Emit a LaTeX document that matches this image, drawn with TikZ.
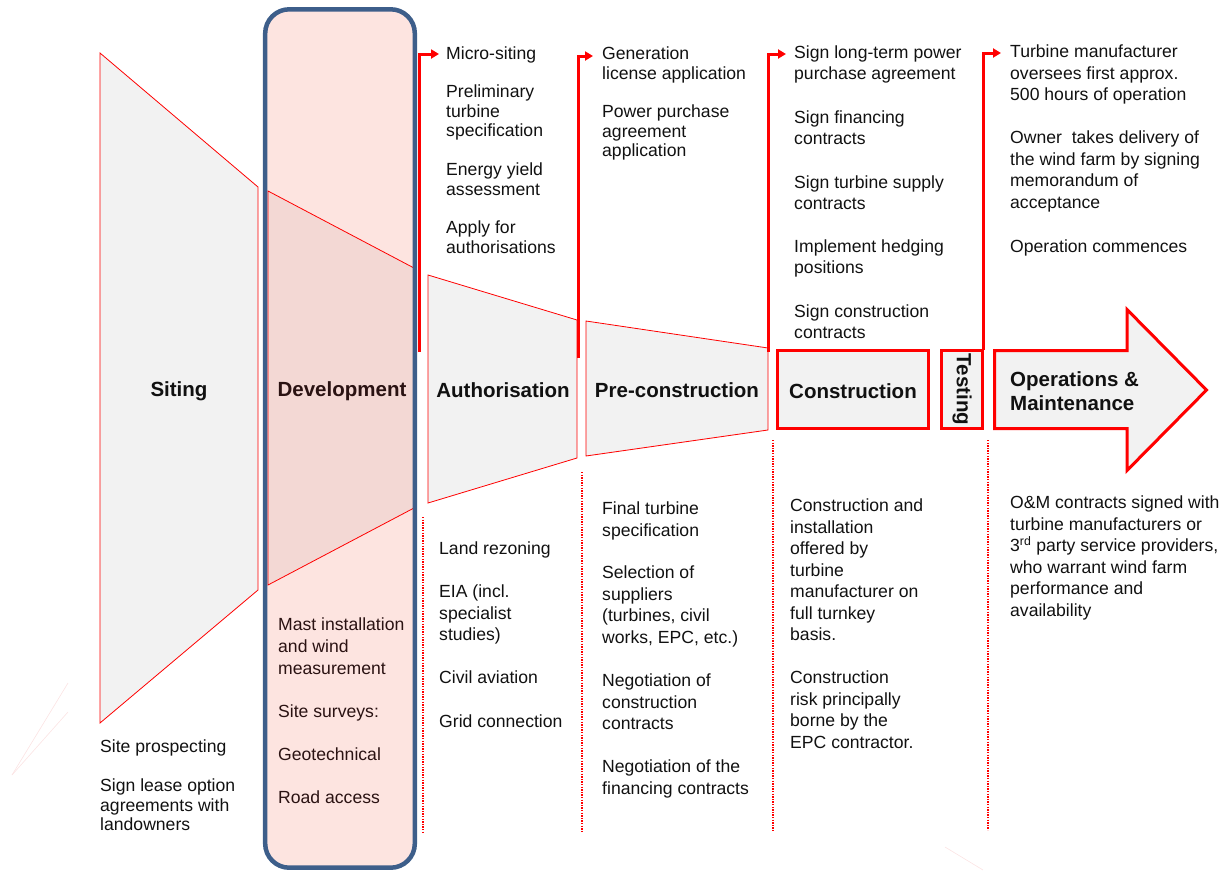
\documentclass[tikz,border=0pt]{standalone}
\usepackage{fontspec}
\setmainfont{Liberation Sans}
\usetikzlibrary{arrows.meta}
\definecolor{lgrey}{HTML}{F2F2F2}
\definecolor{devpink}{HTML}{FDE4E0}
\definecolor{devtrap}{HTML}{F3D8D4}
\definecolor{devblue}{HTML}{3D5E8A}
\definecolor{txt}{HTML}{111111}
\definecolor{devtxt}{HTML}{2A1212}
\definecolor{faint}{HTML}{FBE3E3}
\begin{document}
\begin{tikzpicture}[x=1pt,y=-1pt,
  phase/.style={draw=red, line width=0.8pt, fill=lgrey},
  stage/.style={draw=red, line width=3pt, fill=lgrey, line join=miter},
  lbl/.style={font=\fontsize{20.5}{24.5}\selectfont\bfseries, text=txt, inner sep=0pt},
  item/.style={font=\fontsize{17.6}{21.5}\selectfont, text=txt, align=left, anchor=base west, inner sep=0pt},
  tightlines/.style={font=\fontsize{17.6}{19.5}\selectfont},
  midlines/.style={font=\fontsize{17.6}{21}\selectfont},
  devlines/.style={font=\fontsize{17.6}{22}\selectfont, text=devtxt},
  flow/.style={draw=red, line width=3pt, -{Triangle[length=8pt,width=9pt]}},
  divider/.style={draw=red, line width=1.3pt, dash pattern=on 1.3pt off 1.3pt}]
\useasboundingbox (0,0) rectangle (1224,871);

% faint artefact lines
\draw[faint, line width=0.6pt] (12,775) -- (68,683);
\draw[faint, line width=0.6pt] (12,775) -- (68,712);
\draw[faint, line width=0.6pt] (945,847) -- (983,870);

% Siting trapezoid
\path[phase] (100,53) -- (258,187) -- (258,590) -- (100,723) -- cycle;

% Development column
\fill[devpink, rounded corners=24pt] (265.2,9.3) rectangle (414.8,867.7);
\path[phase, fill=devtrap] (268,191) -- (414,268) -- (414,508) -- (268,585) -- cycle;
\draw[devblue, line width=4.5pt, rounded corners=24pt] (265.2,9.3) rectangle (414.8,867.7);

% Authorisation and pre-construction trapezoids
\path[phase] (428,275) -- (577,320) -- (577,458) -- (428,503) -- cycle;
\path[phase] (586,321) -- (768,348) -- (768,430) -- (586,456) -- cycle;

% Construction, Testing, O&M
\path[stage] (777.5,350.5) rectangle (928.5,428.5);
\path[stage] (941.5,350.5) rectangle (982.5,428.5);
\path[stage] (994.5,350.5) -- (1127,350.5) -- (1127,309.5) -- (1206.5,390) -- (1127,470.5) -- (1127,428.5) -- (994.5,428.5) -- cycle;

% flow connectors
\coordinate (f1s) at (419.5,352); \coordinate (f1e) at (439,54);
\coordinate (f2s) at (578,358);   \coordinate (f2e) at (593,56);
\coordinate (f3s) at (768,352);   \coordinate (f3e) at (786,54);
\coordinate (f4s) at (983,350);   \coordinate (f4e) at (1001,53);
\draw[flow] (f1s) |- (f1e);
\draw[flow] (f2s) |- (f2e);
\draw[flow] (f3s) |- (f3e);
\draw[flow] (f4s) |- (f4e);

% dividers
\coordinate (d1a) at (423,517); \coordinate (d1b) at (423,832);
\coordinate (d2a) at (582,472); \coordinate (d2b) at (582,832);
\coordinate (d3a) at (773,440); \coordinate (d3b) at (773,832);
\coordinate (d4a) at (988,440); \coordinate (d4b) at (988,830);
\draw[divider] (d1a) -- (d1b);
\draw[divider] (d2a) -- (d2b);
\draw[divider] (d3a) -- (d3b);
\draw[divider] (d4a) -- (d4b);

% stage labels
\node[lbl, anchor=base] (lsit) at (179,396) {Siting};
\node[lbl, anchor=base, text=devtxt] (ldev) at (342,396) {Development};
\node[lbl, anchor=base] (lauth) at (503,397) {Authorisation};
\node[lbl, anchor=base] (lpre) at (677,397) {Pre-construction};
\node[lbl, anchor=base] (lcon) at (853,398) {Construction};
\node[lbl, rotate=-90] (ltest) at (962,389.5) {Testing};
\node[lbl, align=left, anchor=base west] (lom) at (1010,410.5) {Operations \&\\Maintenance};

% (multi-line nodes are placed by the baseline of their last line)
% top column 1
\node[item, tightlines] (t11) at (446,59.5) {Micro-siting};
\node[item, tightlines] (t12) at (446,136.5) {Preliminary\\turbine\\specification};
\node[item, tightlines] (t13) at (446,195) {Energy yield\\assessment};
\node[item, tightlines] (t14) at (446,253) {Apply for\\authorisations};
% top column 2
\node[item, tightlines] (t21) at (602,79) {Generation\\license application};
\node[item, tightlines] (t22) at (602,156.5) {Power purchase\\agreement\\application};
% top column 3
\node[item, midlines] (t31) at (794,79.5) {Sign long-term power\\purchase agreement};
\node[item, midlines] (t32) at (794,144.5) {Sign financing\\contracts};
\node[item, midlines] (t33) at (794,209) {Sign turbine supply\\contracts};
\node[item, midlines] (t34) at (794,273.5) {Implement hedging\\positions};
\node[item, midlines] (t35) at (794,338) {Sign construction\\contracts};
% top column 4
\node[item] (t41) at (1010,100.5) {Turbine manufacturer\\oversees first approx.\\500 hours of operation};
\node[item] (t42) at (1010,208) {Owner\ \ takes delivery of\\the wind farm by signing\\memorandum of\\acceptance};
\node[item] (t43) at (1010,252.5) {Operation commences};

% bottom: siting
\node[item, tightlines] (b11) at (100,752.5) {Site prospecting};
\node[item, tightlines] (b12) at (100,830.5) {Sign lease option\\agreements with\\landowners};
% bottom: development
\node[item, devlines] (b21) at (278,674.5) {Mast installation\\and wind\\measurement};
\node[item, devlines] (b22) at (278,717.5) {Site surveys:};
\node[item, devlines] (b23) at (278,760.5) {Geotechnical};
\node[item, devlines] (b24) at (278,803.5) {Road access};
% bottom: authorisation
\node[item] (b31) at (439,554.5) {Land rezoning};
\node[item] (b32) at (439,640.5) {EIA (incl.\\specialist\\studies)};
\node[item] (b33) at (439,683.5) {Civil aviation};
\node[item] (b34) at (439,727.5) {Grid connection};
% bottom: pre-construction
\node[item] (b41) at (602,536) {Final turbine\\specification};
\node[item] (b42) at (602,643) {Selection of\\suppliers\\(turbines, civil\\works, EPC, etc.)};
\node[item] (b43) at (602,729.5) {Negotiation of\\construction\\contracts};
\node[item] (b44) at (602,794) {Negotiation of the\\financing contracts};
% bottom: construction
\node[item] (b51) at (790,640.5) {Construction and\\installation\\offered by\\turbine\\manufacturer on\\full turnkey\\basis.};
\node[item] (b52) at (790,748) {Construction\\risk principally\\borne by the\\EPC contractor.};
% bottom: O&M
\node[item] (b61) at (1010,616) {O\&M contracts signed with\\turbine manufacturers or\\3\textsuperscript{rd} party service providers,\\who warrant wind farm\\performance and\\availability};
\end{tikzpicture}
\end{document}
